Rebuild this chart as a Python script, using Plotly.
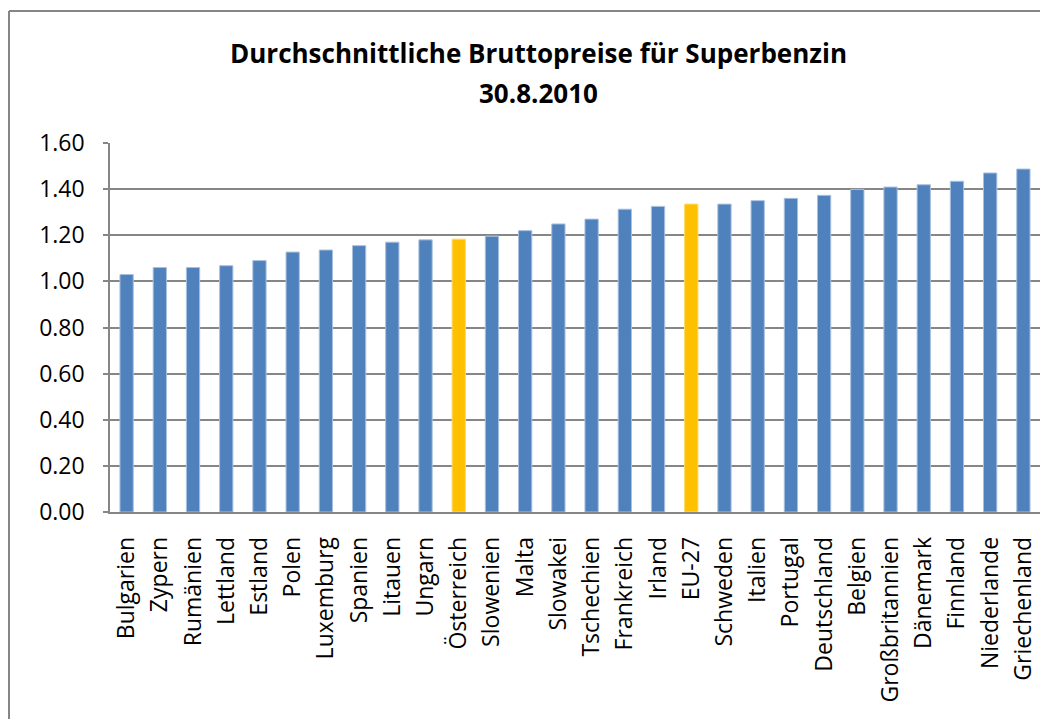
import plotly.graph_objects as go

countries = ["Bulgarien", "Zypern", "Rumänien", "Lettland", "Estland", "Polen", "Luxemburg",
             "Spanien", "Litauen", "Ungarn", "Österreich", "Slowenien", "Malta", "Slowakei",
             "Tschechien", "Frankreich", "Irland", "EU-27", "Schweden", "Italien", "Portugal",
             "Deutschland", "Belgien", "Großbritannien", "Dänemark", "Finnland", "Niederlande",
             "Griechenland"]
prices = [1.03, 1.06, 1.06, 1.068, 1.09, 1.127, 1.136, 1.155, 1.17, 1.18, 1.183, 1.196, 1.22,
          1.249, 1.27, 1.313, 1.325, 1.335, 1.335, 1.35, 1.36, 1.373, 1.399, 1.409, 1.419,
          1.434, 1.47, 1.487]
highlight = ["Österreich", "EU-27"]

title_line1 = "Durchschnittliche Bruttopreise für Superbenzin"
title_line2 = "30.8.2010"
y_ticks = [0, 0.2, 0.4, 0.6, 0.8, 1.0, 1.2, 1.4, 1.6]

BLUE = "#4F81BD"
GOLD = "#FFC000"
colors = [GOLD if c in highlight else BLUE for c in countries]
edge = ["#FFD966" if c in highlight else "#A9C1DF" for c in countries]

fig = go.Figure(go.Bar(
    x=countries, y=prices,
    marker=dict(color=colors, line=dict(color=edge, width=1)),
    width=0.4,
))

font_family = "Open Sans, Liberation Sans, sans-serif"

# page body adds an 8px margin; keep the figure small enough to avoid scrollbars
PLOT_H = 369
PLOT_W = 930
fig.update_layout(
    width=1040, height=711,
    margin=dict(l=102, r=8, t=135, b=207),
    paper_bgcolor="white", plot_bgcolor="white",
    showlegend=False,
    font=dict(family=font_family, size=23, color="black"),
    bargap=0.6,
)

fig.update_xaxes(
    tickangle=-90,
    showline=True, linecolor="#868686", linewidth=1.5,
    ticks="", showgrid=False,
    tickfont=dict(size=23, family=font_family),
    ticklabelstandoff=14,
)
fig.update_yaxes(
    range=[0, 1.6], tickvals=y_ticks, tickformat=".2f",
    showline=True, linecolor="#868686", linewidth=1.5,
    ticks="outside", ticklen=5, tickcolor="#868686", tickwidth=1.5,
    showgrid=True, gridcolor="#868686", gridwidth=1.6,
    zeroline=False,
    tickfont=dict(size=23, family=font_family),
    ticklabelstandoff=14,
)

fig.add_annotation(text="<b>" + title_line1 + "</b>", xref="paper", yref="paper",
                   x=(538 - 110) / PLOT_W, y=(512 - 53) / PLOT_H, xanchor="center", yanchor="middle",
                   showarrow=False, font=dict(size=26, family=font_family, color="black"))
fig.add_annotation(text="<b>" + title_line2 + "</b>", xref="paper", yref="paper",
                   x=(538 - 110) / PLOT_W, y=(512 - 93) / PLOT_H, xanchor="center", yanchor="middle",
                   showarrow=False, font=dict(size=26, family=font_family, color="black"))

# outer chart border: only the left and top edges are visible in the picture
bx0 = (9 - 110) / PLOT_W
bx1 = (1040 - 110) / PLOT_W
by0 = (512 - 719) / PLOT_H
by1 = (512 - 11) / PLOT_H
fig.add_shape(type="line", xref="paper", yref="paper", x0=bx0, x1=bx0, y0=by0, y1=by1,
              line=dict(color="#868686", width=2), layer="below")
fig.add_shape(type="line", xref="paper", yref="paper", x0=bx0, x1=bx1, y0=by1, y1=by1,
              line=dict(color="#868686", width=2), layer="below")

fig.write_html("out.html")
